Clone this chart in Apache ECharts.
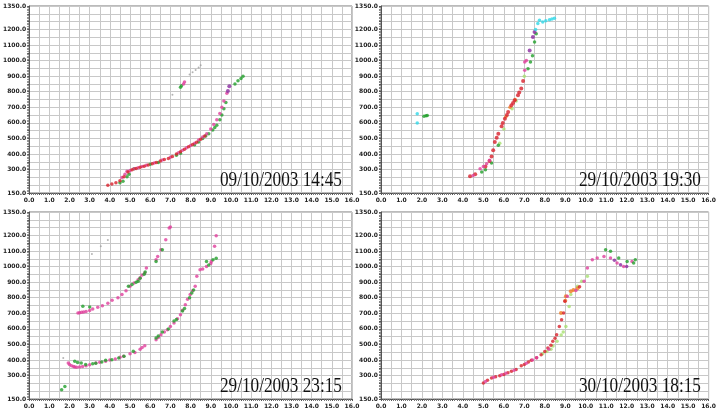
<!DOCTYPE html>
<html>
<head>
<meta charset="utf-8">
<script src="https://cdn.jsdelivr.net/npm/echarts@6/dist/echarts.min.js"></script>
<style>
  html, body { margin: 0; padding: 0; background: #fff; }
  #chart { width: 719px; height: 412px; }
</style>
</head>
<body>
<div id="chart"></div>
<script>
// panel captions
var captions = ['09/10/2003 14:45', '29/10/2003 19:30', '29/10/2003 23:15', '30/10/2003 18:15']

// panel 1 - 09/10/2003 14:45
var p1Red = [[3.9,200],[4.1,207],[4.3,215],[4.5,228],[4.7,255],[4.9,285],[5.1,300],[5.3,308],[5.5,316],[5.7,322],[5.9,330],[6.1,337],[6.3,345],[6.5,355],[6.7,365],[6.9,372],[7.1,385],[7.3,400],[7.5,415],[7.7,430],[7.9,447],[8.1,462],[8.3,475],[8.5,495],[8.7,515]]
var p1Magenta = [[4.6,250],[4.75,270],[4.85,290],[5.0,295],[5.2,305],[5.4,312],[5.6,320],[5.8,328],[6.2,342],[6.6,362],[7.0,380],[7.4,408],[7.6,425],[7.8,440],[8.0,455],[8.2,470],[8.4,490],[8.6,510],[8.8,530],[9.0,560],[9.15,590],[9.3,620],[9.45,660],[9.55,700],[9.65,740],[9.8,790],[7.7,862],[7.65,850]]
var p1Green = [[4.5,215],[4.65,225],[4.85,255],[4.95,270],[5.2,305],[6.0,335],[6.4,345],[7.3,392],[7.5,405],[8.2,460],[8.4,478],[8.6,500],[8.75,515],[8.9,530],[9.1,555],[9.2,570],[9.3,585],[9.45,620],[9.55,650],[9.65,690],[9.75,730],[10.2,850],[10.35,870],[10.5,885],[10.6,900],[7.5,828],[7.55,838]]
var p1Purple = [[9.85,805],[9.92,835]]
var p1Gray = [[7.1,780],[7.95,910],[8.1,925],[8.25,940],[8.4,955],[8.5,970]]

// panel 2 - 29/10/2003 19:30
var p2Red = [[4.35,257],[4.6,270],[5.1,320],[5.3,355],[5.4,385],[5.48,424],[5.56,477],[5.65,505],[5.73,531],[5.89,578],[5.95,600],[6.05,627],[6.15,650],[6.21,670],[6.37,713],[6.45,728],[6.53,745],[6.69,777],[6.75,795],[6.85,820],[6.94,869]]
var p2Magenta = [[4.5,262],[4.84,306],[5.0,320],[5.16,338],[5.3,360],[7.02,937],[7.02,990],[7.1,1000]]
var p2Green = [[4.92,285],[5.1,300],[5.4,342],[5.73,456],[7.18,948],[7.3,990],[7.4,1030],[7.5,1119],[7.58,1172],[2.1,642],[2.2,645],[2.26,648]]
var p2LightGreen = [[5.8,470],[6.0,560],[6.4,690],[6.6,740],[7.0,900]]
var p2Orange = [[6.3,700],[6.55,750],[6.1,640]]
var p2Purple = [[7.26,1065],[7.42,1151],[7.5,1183]]
var p2Cyan = [[7.66,1237],[7.74,1258],[7.9,1247],[8.05,1255],[8.23,1262],[8.35,1266],[8.47,1272],[7.55,1200],[1.77,659],[1.77,599]]

// panel 3 - 29/10/2003 23:15
var p3Magenta = [[2.42,702],[2.5,703],[2.6,706],[2.7,708],[2.82,712],[3.0,718],[3.15,727],[3.4,738],[3.63,749],[3.9,765],[4.11,783],[4.4,800],[4.6,820],[4.8,845],[5.0,873],[5.2,895],[5.4,916],[5.5,928],[5.6,945],[5.73,959],[5.81,991],[6.29,1044],[6.37,1065],[6.53,1108],[6.77,1172],[6.94,1247],[7.0,1254],
  [1.94,381],[2.0,372],[2.1,364],[2.2,358],[2.26,355],[2.35,354],[2.5,356],[2.65,358],[2.82,364],[3.0,370],[3.31,381],[3.5,386],[3.79,392],[4.0,400],[4.27,407],[4.5,418],[4.68,424],[5.0,440],[5.24,449],[5.5,470],[5.6,480],[5.73,492],
  [6.29,531],[6.4,545],[6.53,563],[6.7,580],[6.85,595],[7.0,615],[7.18,638],[7.35,665],[7.5,691],[7.6,720],[7.74,755],[7.85,790],[7.98,820],[8.1,845],[8.23,873],[8.31,937],[8.47,980],[8.6,985],[8.79,1001],[9.0,1020],[9.03,1033],[9.19,1130],[9.27,1198]]
var p3Green = [[2.66,745],[3.0,740],[4.92,873],[5.1,885],[5.3,900],[5.4,905],[5.5,925],[5.7,950],[5.75,965],[6.29,1033],[6.6,1108],
  [2.26,392],[2.4,385],[2.58,381],[2.8,372],[3.15,377],[3.3,380],[3.6,388],[3.79,398],[4.1,402],[4.44,413],[4.7,425],[5.16,456],
  [6.29,541],[6.4,555],[6.6,580],[6.9,600],[7.18,650],[7.3,660],[7.6,715],[7.7,730],[7.95,800],[8.06,831],[8.15,850],[8.79,1033],[8.9,1010],[9.11,1044],[9.27,1054],[1.61,210],[1.77,231]]
var p3Gray = [[1.69,413],[3.11,1080],[3.55,1130],[3.9,1170]]

// panel 4 - 30/10/2003 18:15
var p4Red = [[5.0,253],[5.2,270],[5.4,285],[5.6,292],[5.8,300],[6.0,308],[6.2,318],[6.37,328],[6.6,340],[6.85,364],[7.0,372],[7.2,388],[7.34,398],[7.6,415],[7.82,434],[8.0,455],[8.15,477],[8.3,495],[8.39,520],[8.5,540],[8.58,563],[8.71,616],[8.82,659],[8.92,702],[8.98,777],[9.7,870]]
var p4Magenta = [[5.1,262],[5.5,290],[5.89,306],[6.1,315],[6.5,335],[7.1,380],[7.4,400],[7.6,415],[8.2,470],[9.1,809],[9.52,847],[9.92,905],[10.08,991],[10.32,1044],[10.56,1055],[10.89,1065],[11.21,1055],[11.53,1023],[11.85,1001],[12.26,1033]]
var p4Green = [[10.97,1108],[11.21,1098],[11.61,1055],[12.02,1033],[12.34,1023],[12.42,1044]]
var p4LightGreen = [[7.9,440],[8.1,455],[8.3,470],[8.4,490],[8.6,520],[8.8,560],[8.9,580],[9.03,616],[9.19,744],[9.27,820],[9.6,873],[9.8,905],[10.08,937]]
var p4Orange = [[8.79,702],[9.0,780],[9.03,809],[9.27,841],[9.4,850],[9.6,860]]
var p4Purple = [[11.7,1012],[12.0,1001],[11.4,1040]]

var colors = {
    red: '#d8202c',
    magenta: '#e0409c',
    green: '#22a02c',
    lightGreen: '#a8e070',
    orange: '#f07a20',
    purple: '#8a2aa0',
    cyan: '#30d8e8',
    gray: '#a0a0a0'
}

var grids = [
    { left: 22, top: 6, width: 330, height: 187 },
    { left: 381, top: 6, width: 330, height: 187 },
    { left: 22, top: 212, width: 330, height: 187 },
    { left: 381, top: 212, width: 330, height: 187 }
]

const MyEcharts = echarts.init(document.getElementById('chart'), null, { renderer: 'canvas' })

let xAxes = [], yAxes = [], series = [], texts = []
grids.forEach((g, i) => {
    g.show = true
    g.borderColor = '#777'
    g.borderWidth = 1
    g.containLabel = false
    xAxes.push({
        gridIndex: i,
        type: 'value',
        min: 0,
        max: 16,
        interval: 0.5,
        axisLine: { onZero: false, lineStyle: { color: '#555' } },
        axisTick: { show: true, length: 2, lineStyle: { color: '#555' } },
        minorTick: { show: true, splitNumber: 5, length: 2, lineStyle: { color: '#777' } },
        axisLabel: {
            fontSize: 6, fontWeight: 'bold', color: '#222', margin: 4,
            fontFamily: 'DejaVu Sans',
            formatter: v => (Math.abs(v - Math.round(v)) < 1e-6 ? v.toFixed(1) : '')
        },
        splitLine: { show: true, lineStyle: { color: '#c8c8c8', width: 1 } }
    })
    yAxes.push({
        gridIndex: i,
        type: 'value',
        min: 150,
        max: 1350,
        interval: 50,
        axisLine: { show: true, onZero: false, lineStyle: { color: '#555' } },
        axisTick: { show: true, length: 2, lineStyle: { color: '#555' } },
        minorTick: { show: true, splitNumber: 5, length: 2, lineStyle: { color: '#888' } },
        axisLabel: {
            fontSize: 6, fontWeight: 'bold', color: '#222', margin: 3,
            fontFamily: 'DejaVu Sans',
            formatter: v => ((v === 150 || v === 1350 || (v % 100 === 0 && v >= 300 && v <= 1200)) ? v.toFixed(1) : '')
        },
        splitLine: { show: true, lineStyle: { color: '#c8c8c8', width: 1 } }
    })
    texts.push({
        type: 'text',
        x: g.left + 198,
        y: g.top + 164,
        scaleX: 0.82,
        z: 100,
        style: {
            text: captions[i],
            font: '21px "Liberation Serif"',
            fill: '#111',
            textVerticalAlign: 'top'
        }
    })
})

const addSeries = (gridIndex, data, color, size) => {
    series.push({
        type: 'scatter',
        xAxisIndex: gridIndex,
        yAxisIndex: gridIndex,
        data: data,
        symbol: 'circle',
        symbolSize: size || 3.5,
        itemStyle: { color: color },
        silent: true,
        animation: false
    })
}

addSeries(0, p1Gray, colors.gray, 2)
addSeries(0, p1Green, colors.green)
addSeries(0, p1Magenta, colors.magenta)
addSeries(0, p1Red, colors.red)
addSeries(0, p1Purple, colors.purple, 4)

addSeries(1, p2LightGreen, colors.lightGreen)
addSeries(1, p2Green, colors.green)
addSeries(1, p2Orange, colors.orange)
addSeries(1, p2Red, colors.red, 4)
addSeries(1, p2Magenta, colors.magenta)
addSeries(1, p2Purple, colors.purple, 4)
addSeries(1, p2Cyan, colors.cyan)

addSeries(2, p3Gray, colors.gray, 2)
addSeries(2, p3Magenta, colors.magenta)
addSeries(2, p3Green, colors.green)

addSeries(3, p4LightGreen, colors.lightGreen)
addSeries(3, p4Orange, colors.orange, 4)
addSeries(3, p4Red, colors.red)
addSeries(3, p4Magenta, colors.magenta)
addSeries(3, p4Green, colors.green)
addSeries(3, p4Purple, colors.purple)

const option = {
    animation: false,
    grid: grids,
    xAxis: xAxes,
    yAxis: yAxes,
    series: series,
    graphic: texts
}
MyEcharts.setOption(option)
</script>
</body>
</html>
